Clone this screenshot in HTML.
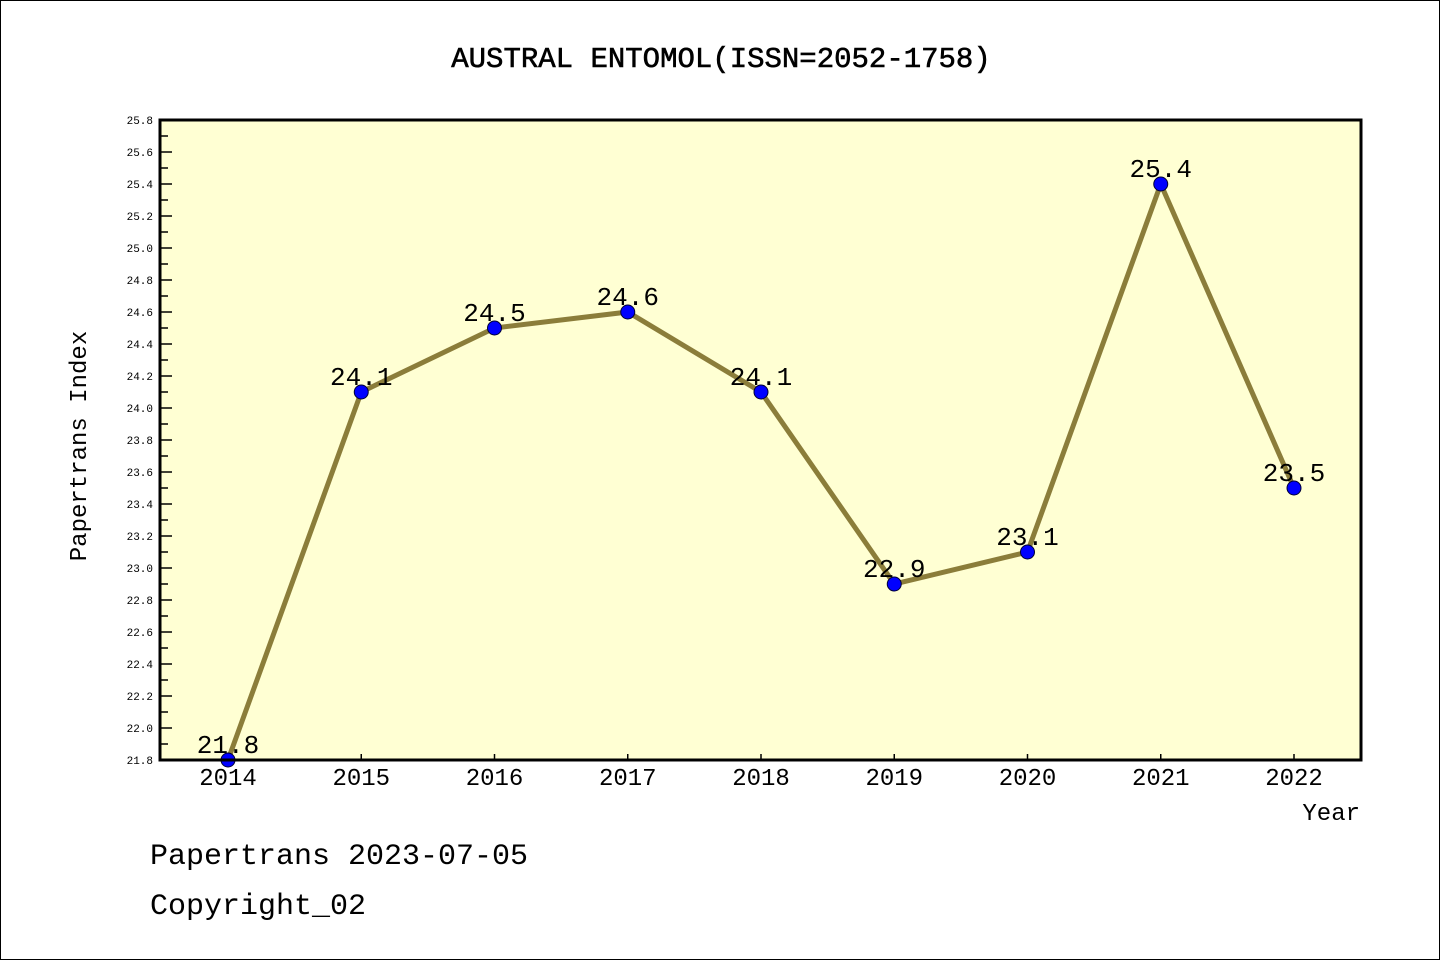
<!DOCTYPE html>
<html><head><meta charset="utf-8"><style>
html,body{margin:0;padding:0;background:#fff}
svg{display:block}
text{font-family:"Liberation Mono","DejaVu Sans Mono",monospace;fill:#000}
</style></head><body>
<svg id="chart" width="1440" height="960" viewBox="0 0 1440 960" xmlns="http://www.w3.org/2000/svg">
<rect x="0.5" y="0.5" width="1439" height="959" fill="#fff" stroke="#000"/>
<text x="721" y="67" font-size="29" text-anchor="middle" stroke="#000" stroke-width="0.6">AUSTRAL ENTOMOL(ISSN=2052-1758)</text>
<rect x="160" y="120" width="1201" height="640" fill="#ffffd3"/>
<g id="axes"></g>
<g id="marks"></g>
<rect x="160" y="120" width="1201" height="640" fill="none" stroke="#000" stroke-width="3"/>
<text x="86" y="446" font-size="24" text-anchor="middle" transform="rotate(-90 86 446)">Papertrans Index</text>
<text x="1360" y="820" font-size="24" text-anchor="end">Year</text>
<text x="150" y="864" font-size="30">Papertrans 2023-07-05</text>
<text x="150" y="914" font-size="30">Copyright_02</text>
</svg>
<script>
const years = ["2014","2015","2016","2017","2018","2019","2020","2021","2022"];
const values = [21.8,24.1,24.5,24.6,24.1,22.9,23.1,25.4,23.5];
const labels = ["21.8","24.1","24.5","24.6","24.1","22.9","23.1","25.4","23.5"];
const yTicks = ["21.8","22.0","22.2","22.4","22.6","22.8","23.0","23.2","23.4","23.6","23.8","24.0","24.2","24.4","24.6","24.8","25.0","25.2","25.4","25.6","25.8"];
const NS="http://www.w3.org/2000/svg";
const yMin=21.8,yMax=25.8,plotTop=120,plotBot=760,plotLeft=160;
const ys=v=>plotBot-(v-yMin)/(yMax-yMin)*(plotBot-plotTop);
const xs=i=>228+i*(1294-228)/(years.length-1);
function mk(t,a,p){const e=document.createElementNS(NS,t);for(const k in a)e.setAttribute(k,a[k]);p.appendChild(e);return e;}
const ax=document.getElementById('axes'),mg=document.getElementById('marks');
yTicks.forEach((t,i)=>{
  const v=parseFloat(t),yy=ys(v);
  const l=mk('line',{x1:plotLeft,x2:plotLeft+12,y1:yy,y2:yy,stroke:'#000','stroke-width':1.5},ax);
  
  
  const tx=mk('text',{x:153,y:yy+4,'font-size':11,'text-anchor':'end'},ax);
  tx.textContent=t;
  
  
  if(i<yTicks.length-1){
    const ym=ys(v+0.1);
    const m=mk('line',{x1:plotLeft,x2:plotLeft+8,y1:ym,y2:ym,stroke:'#000','stroke-width':1.5},ax);
    
    
  }
});
years.forEach((yr,i)=>{
  const l=mk('line',{x1:xs(i),x2:xs(i),y1:plotBot,y2:plotBot-6,stroke:'#000','stroke-width':1.5},ax);
  
  
  const t=mk('text',{x:xs(i),y:785,'font-size':24,'text-anchor':'middle'},ax);
  t.textContent=yr;
  
  
});
const pl=mk('polyline',{points:values.map((v,i)=>xs(i)+','+ys(v)).join(' '),fill:'none',stroke:'#8b7d3a','stroke-width':5},mg);


values.forEach((v,i)=>{
  const c=mk('circle',{cx:xs(i),cy:ys(v),r:7,fill:'#0000ff',stroke:'#000033','stroke-width':1},mg);
  
  
  const t=mk('text',{x:xs(i),y:ys(v)-7,'font-size':26,'text-anchor':'middle'},mg);
  t.textContent=labels[i];
  
  
});
</script>
</body></html>
